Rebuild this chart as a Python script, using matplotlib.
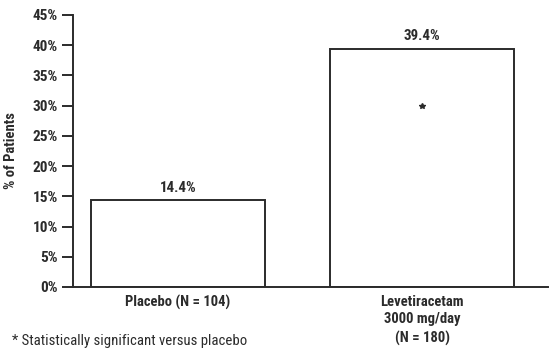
import matplotlib
matplotlib.use("Agg")
import matplotlib.pyplot as plt
from matplotlib import font_manager

avail = {}
for f in font_manager.fontManager.ttflist:
    avail.setdefault(f.name, set()).add(f.weight)
fam = "DejaVu Sans"
for cand in ["Roboto Condensed", "Encode Sans Condensed", "Cabin Condensed", "Barlow Semi Condensed"]:
    if cand in avail and any(w >= 600 for w in avail[cand]):
        fam = cand
        break
plt.rcParams['font.family'] = [fam, 'DejaVu Sans']

categories = ["Placebo (N = 104)", "Levetiracetam\n3000 mg/day\n(N = 180)"]
values = [14.4, 39.4]
value_labels = ["14.4%", "39.4%"]
yticks = [0, 5, 10, 15, 20, 25, 30, 35, 40, 45]
ytick_labels = ["0%", "5%", "10%", "15%", "20%", "25%", "30%", "35%", "40%", "45%"]
significance_y = 30.0

ink = "#2b2b2b"
fig = plt.figure(figsize=(5.58, 3.58), dpi=100)
ax = fig.add_axes([73/558, 1-287/358, 475/558, 272/358])

x = [0, 1]
widths = [0.713, 0.754]
ax.bar(x, values, width=widths, color="white", edgecolor=ink, linewidth=1.4, zorder=2)
for xi, v, lab in zip(x, values, value_labels):
    ax.text(xi, v + 0.9, lab, ha="center", va="bottom", fontsize=10.8, fontweight="bold", color=ink)
ax.plot([1], [significance_y], marker="*", color=ink, markersize=4, linestyle="none")

ax.set_xlim(-0.43, 1.516)
ax.set_ylim(0, 45)
ax.set_yticks(yticks)
ax.set_yticklabels(ytick_labels, fontsize=11, fontweight="bold", color=ink)
ax.set_xticks(x)
ax.set_xticklabels(categories, fontsize=10.5, fontweight="bold", color=ink, linespacing=1.35)
ax.tick_params(axis="x", length=0, pad=5.5)
ax.tick_params(axis="y", length=8, width=1.4, color=ink, pad=3)
for s in ["top", "right"]:
    ax.spines[s].set_visible(False)
for s in ["left", "bottom"]:
    ax.spines[s].set_linewidth(1.4)
    ax.spines[s].set_color(ink)
    ax.spines[s].set_zorder(3)
ax.set_ylabel("% of Patients", fontsize=10.5, fontweight="bold", color=ink)
ax.yaxis.set_label_coords((18 - 73) / 475, 0.5)

fig.text(12/558, 1-341/358, "* Statistically significant versus placebo", fontsize=10.6, color=ink, va="center")

fig.savefig("out.png", dpi=100)
